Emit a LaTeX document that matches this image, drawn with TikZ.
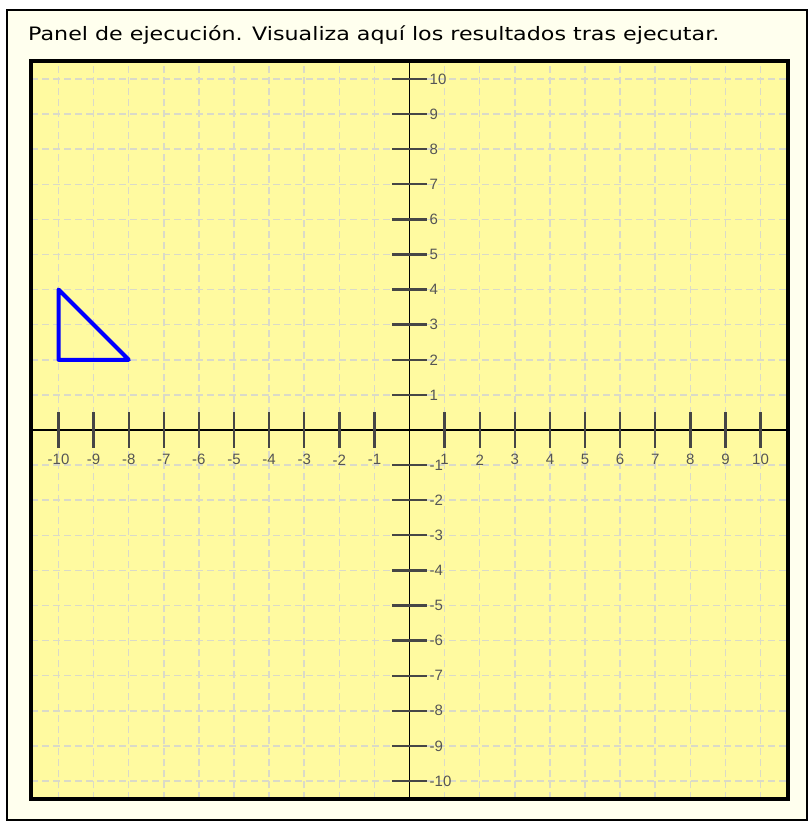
\documentclass[tikz,border=0pt]{standalone}
\usepackage{fontspec}
\setmainfont{DejaVu Sans}
\newfontfamily\axisfont{Liberation Sans}
\usepackage{graphicx}
\usepackage{xcolor}
\usepackage{tikz}
\usetikzlibrary{positioning}
\definecolor{panelbg}{RGB}{255,255,238}
\definecolor{plotbg}{RGB}{255,250,160}
\definecolor{gridgray}{RGB}{218,218,200}
\definecolor{tickgray}{RGB}{70,70,70}
\definecolor{labelgray}{RGB}{85,85,85}
\tikzset{
  panel/.style={draw=black, line width=1.2pt, fill=panelbg},
  plotfill/.style={fill=plotbg},
  plotframe/.style={draw=black, line width=4pt},
  gridline/.style={draw=gridgray, line width=1.5pt, dash pattern=on 7pt off 4pt},
  axis/.style={draw=black, line width=1.8pt},
  tickmark/.style={draw=tickgray, line width=2.4pt},
  xlab/.style={font=\axisfont\fontsize{15}{15}\selectfont, text=labelgray, inner sep=0pt},
  ylab/.style={font=\axisfont\fontsize{15}{15}\selectfont, text=labelgray, inner sep=0pt, anchor=west},
  figure/.style={draw=blue, line width=4pt, line join=round},
}

\begin{document}
\begin{tikzpicture}[x=35.1pt, y=35.1pt]
  \useasboundingbox (-11.667,-11.168) rectangle (11.41,12.25);
  % panel and plot area
  \draw[panel] (-11.467,-11.111) rectangle (11.325,11.966);
  \node[anchor=base west, inner sep=0pt, font=\fontsize{18.5}{20}\selectfont]
    (title) at (-10.87,11.1) {\scalebox{1.2}[1]{Panel de ejecución. Visualiza aquí los resultados tras ejecutar.}};
  \coordinate (boxsw) at (-10.78,-10.52);
  \coordinate (boxne) at (10.78,10.52);
  \fill[plotfill] (boxsw) rectangle (boxne);
  % grid
  \foreach \k in {-10,...,10} {
    \draw[gridline] (\k,-10.52) -- (\k,10.52);
    \draw[gridline] (-10.78,\k) -- (10.78,\k);
  }
  % axes
  \coordinate (xmin) at (-10.78,0);
  \coordinate (xmax) at (10.78,0);
  \coordinate (ymin) at (0,-10.52);
  \coordinate (ymax) at (0,10.52);
  \draw[axis] (xmin) -- (xmax);
  \draw[axis] (ymin) -- (ymax);
  % ticks and labels
  \foreach \k in {-10,...,-1,1,2,...,10} {
    \draw[tickmark] (\k,-0.5) -- (\k,0.5);
    \draw[tickmark] (-0.5,\k) -- (0.5,\k);
    \node[xlab] (xl\k) at (\k,-0.85) {\k};
    \node[ylab] (yl\k) at (0.57,\k) {\k};
  }
  % triangle
  \coordinate (ta) at (-10,4);
  \coordinate (tb) at (-10,2);
  \coordinate (tc) at (-8,2);
  \draw[figure] (ta) -- (tb) -- (tc) -- cycle;
  \draw[plotframe] (boxsw) rectangle (boxne);
\end{tikzpicture}
\end{document}
